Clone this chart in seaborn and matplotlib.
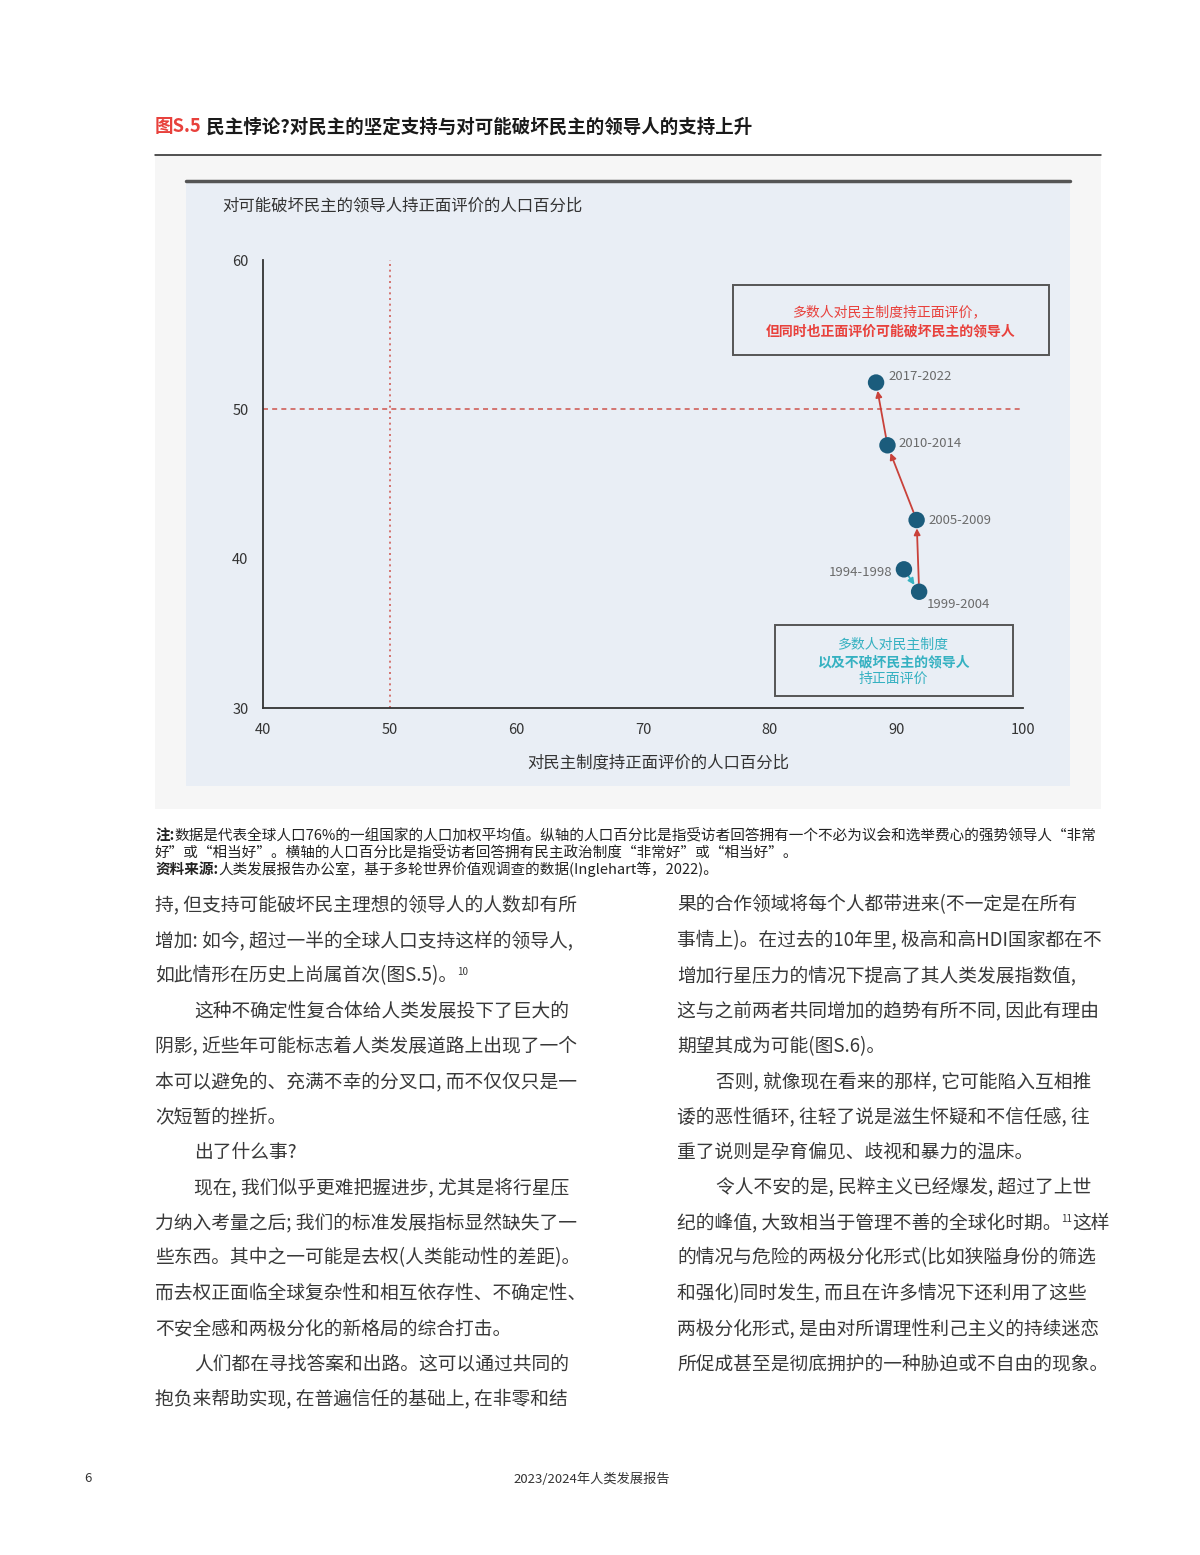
import numpy as np
import pandas as pd
import matplotlib
matplotlib.use("Agg")
import matplotlib.pyplot as plt
import seaborn as sns
from matplotlib.patches import Rectangle
from matplotlib.lines import Line2D

# data
periods = ["1994-1998", "1999-2004", "2005-2009", "2010-2014", "2017-2022"]
support_democracy = [90.6, 91.8, 91.6, 89.3, 88.4]
support_strongman = [39.3, 37.8, 42.6, 47.6, 51.8]
x_ticks = [40, 50, 60, 70, 80, 90, 100]
y_ticks = [30, 40, 50, 60]

# label offsets (points) for each period
label_offsets = [(-8.5, -2), (5.5, -9.5), (8.5, 0), (8, 1.5), (9, 4.5)]
label_align = ["right", "left", "left", "left", "left"]

RED = "#e8413c"
TEAL = "#35b1c1"
DOT = "#1b5c7c"
ARROW_RED = "#c9413a"

sns.set_style("white")
plt.rcParams["font.family"] = ["Noto Sans CJK SC", "DejaVu Sans"]

W, H = 1200, 1555
fig = plt.figure(figsize=(12, 15.55), dpi=100)
fig.patch.set_facecolor("white")


def fx(x):
    return x / W


def fy(y):
    return 1 - y / H


def rect(x0, y0, x1, y1, **kw):
    r = Rectangle((fx(x0), fy(y1)), (x1 - x0) / W, (y1 - y0) / H,
                  transform=fig.transFigure, **kw)
    fig.add_artist(r)
    return r


# panels
rect(155, 155, 1101, 809, facecolor="#f6f6f6", edgecolor="none", zorder=-3)
rect(186, 181, 1070, 786, facecolor="#e9eef5", edgecolor="none", zorder=-2)
fig.add_artist(Line2D([fx(186), fx(1070)], [fy(181), fy(181)], color="#555555",
                      lw=2.5, transform=fig.transFigure, zorder=-1))
fig.add_artist(Line2D([fx(155), fx(1101)], [fy(154.5), fy(154.5)], color="#222222",
                      lw=1.1, transform=fig.transFigure, zorder=-1))

# axes
ax = fig.add_axes([fx(263), fy(708.3), 760 / W, 448.3 / H])
ax.set_facecolor("none")

df = pd.DataFrame({"period": periods, "dem": support_democracy, "strong": support_strongman})

ax.axvline(50, color="#d0605a", lw=1.2, ls=(0, (1.2, 2.2)), zorder=1)
ax.axhline(50, color="#d0605a", lw=1.2, ls=(0, (3, 2.5)), zorder=1)

for i in range(len(df) - 1):
    c = TEAL if i == 0 else ARROW_RED
    ax.annotate("", xy=(df.dem[i + 1], df.strong[i + 1]), xytext=(df.dem[i], df.strong[i]),
                arrowprops=dict(arrowstyle="-|>", color=c, lw=1.3, shrinkA=6, shrinkB=6,
                                mutation_scale=9), zorder=3)

sns.scatterplot(data=df, x="dem", y="strong", s=140, color=DOT, edgecolor="none",
                ax=ax, zorder=5, legend=False)

for i, row in df.iterrows():
    ax.annotate(row.period, xy=(row.dem, row.strong), xytext=label_offsets[i],
                textcoords="offset points", ha=label_align[i], va="center",
                fontsize=9.5, color="#6b6b6b")

ax.set_xlim(40, 100)
ax.set_ylim(30, 60)
ax.set_xticks(x_ticks)
ax.set_yticks(y_ticks)
ax.set_xlabel("")
ax.set_ylabel("")
for s in ["top", "right"]:
    ax.spines[s].set_visible(False)
for s in ["left", "bottom"]:
    ax.spines[s].set_color("#333333")
    ax.spines[s].set_linewidth(1.3)
ax.tick_params(direction="out", length=5.5, width=1.2, color="#333333",
               labelsize=10.5, labelcolor="#333333", pad=5)

fig.text(fx(222), fy(206), "对可能破坏民主的领导人持正面评价的人口百分比", fontsize=11.8,
         color="#333333", ha="left", va="center")
fig.text(fx(658), fy(763), "对民主制度持正面评价的人口百分比", fontsize=11.8,
         color="#333333", ha="center", va="center")

# annotation boxes
rect(733, 284.5, 1048.5, 354.5, facecolor="none", edgecolor="#555555", lw=1.4, zorder=2)
fig.text(fx(890.5), fy(312.5), "多数人对民主制度持正面评价，", fontsize=10, color=RED,
         ha="center", va="center")
fig.text(fx(890.5), fy(331), "但同时也正面评价可能破坏民主的领导人", fontsize=10, color=RED,
         ha="center", va="center", fontweight="bold")

rect(774.5, 625.5, 1012.5, 696, facecolor="none", edgecolor="#555555", lw=1.4, zorder=2)
fig.text(fx(893), fy(645), "多数人对民主制度", fontsize=10, color=TEAL, ha="center", va="center")
fig.text(fx(893), fy(662), "以及不破坏民主的领导人", fontsize=10, color=TEAL, ha="center",
         va="center", fontweight="bold")
fig.text(fx(893), fy(679), "持正面评价", fontsize=10, color=TEAL, ha="center", va="center")

# title
t0 = fig.text(fx(155), fy(127), "图S.5", fontsize=13.3, color=RED, fontweight="bold",
              ha="left", va="center")
ax.annotate(" 民主悖论?对民主的坚定支持与对可能破坏民主的领导人的支持上升", xy=(1, 0.5),
            xycoords=t0, ha="left", va="center", fontsize=13.3, color="#1a1a1a",
            fontweight="bold", annotation_clip=False)

# notes
NOTE_FS = 10.5
n1 = fig.text(fx(155), fy(835), "注:", fontsize=NOTE_FS, fontweight="bold", color="#222222",
              ha="left", va="center")
ax.annotate("数据是代表全球人口76%的一组国家的人口加权平均值。纵轴的人口百分比是指受访者回答拥有一个不必为议会和选举费心的强势领导人“非常",
            xy=(1, 0.5), xycoords=n1, ha="left", va="center", fontsize=NOTE_FS, color="#222222",
            annotation_clip=False)
fig.text(fx(155), fy(852), "好”或“相当好”。横轴的人口百分比是指受访者回答拥有民主政治制度“非常好”或“相当好”。",
         fontsize=NOTE_FS, color="#222222", ha="left", va="center")
n3 = fig.text(fx(155), fy(869), "资料来源:", fontsize=NOTE_FS, fontweight="bold", color="#222222",
              ha="left", va="center")
ax.annotate("人类发展报告办公室，基于多轮世界价值观调查的数据(Inglehart等，2022)。", xy=(1, 0.5),
            xycoords=n3, ha="left", va="center", fontsize=NOTE_FS, color="#222222",
            annotation_clip=False)

# body text ("|" marks a footnote superscript)
left_lines = [
    (0, "持, 但支持可能破坏民主理想的领导人的人数却有所"),
    (0, "增加: 如今, 超过一半的全球人口支持这样的领导人,"),
    (0, "如此情形在历史上尚属首次(图S.5)。|10|"),
    (1, "这种不确定性复合体给人类发展投下了巨大的"),
    (0, "阴影, 近些年可能标志着人类发展道路上出现了一个"),
    (0, "本可以避免的、充满不幸的分叉口, 而不仅仅只是一"),
    (0, "次短暂的挫折。"),
    (1, "出了什么事?"),
    (1, "现在, 我们似乎更难把握进步, 尤其是将行星压"),
    (0, "力纳入考量之后; 我们的标准发展指标显然缺失了一"),
    (0, "些东西。其中之一可能是去权(人类能动性的差距)。"),
    (0, "而去权正面临全球复杂性和相互依存性、不确定性、"),
    (0, "不安全感和两极分化的新格局的综合打击。"),
    (1, "人们都在寻找答案和出路。这可以通过共同的"),
    (0, "抱负来帮助实现, 在普遍信任的基础上, 在非零和结"),
]
right_lines = [
    (0, "果的合作领域将每个人都带进来(不一定是在所有"),
    (0, "事情上)。在过去的10年里, 极高和高HDI国家都在不"),
    (0, "增加行星压力的情况下提高了其人类发展指数值,"),
    (0, "这与之前两者共同增加的趋势有所不同, 因此有理由"),
    (0, "期望其成为可能(图S.6)。"),
    (1, "否则, 就像现在看来的那样, 它可能陷入互相推"),
    (0, "诿的恶性循环, 往轻了说是滋生怀疑和不信任感, 往"),
    (0, "重了说则是孕育偏见、歧视和暴力的温床。"),
    (1, "令人不安的是, 民粹主义已经爆发, 超过了上世"),
    (0, "纪的峰值, 大致相当于管理不善的全球化时期。|11|这样"),
    (0, "的情况与危险的两极分化形式(比如狭隘身份的筛选"),
    (0, "和强化)同时发生, 而且在许多情况下还利用了这些"),
    (0, "两极分化形式, 是由对所谓理性利己主义的持续迷恋"),
    (0, "所促成甚至是彻底拥护的一种胁迫或不自由的现象。"),
]
BODY_FS = 13.5
line_gap = 35.3
for col_x, lines in [(155, left_lines), (677, right_lines)]:
    for k, (indent, s) in enumerate(lines):
        parts = s.split("|")
        t = fig.text(fx(col_x + indent * 39), fy(905 + k * line_gap), parts[0],
                     fontsize=BODY_FS, color="#383838", ha="left", va="center")
        if len(parts) == 3:
            sup = ax.annotate(parts[1], xy=(1.0, 0.9), xycoords=t, ha="left", va="top",
                              fontsize=7, color="#383838", annotation_clip=False)
            if parts[2]:
                ax.annotate(parts[2], xy=(1, 0.5), xycoords=(sup, t), ha="left", va="center",
                            fontsize=BODY_FS, color="#383838", annotation_clip=False)

# footer
fig.text(fx(88), fy(1479), "6", fontsize=9.5, color="#333333", ha="center", va="center")
fig.text(fx(592), fy(1479), "2023/2024年人类发展报告", fontsize=9.5, color="#333333",
         ha="center", va="center")

fig.savefig("out.png", dpi=100)
